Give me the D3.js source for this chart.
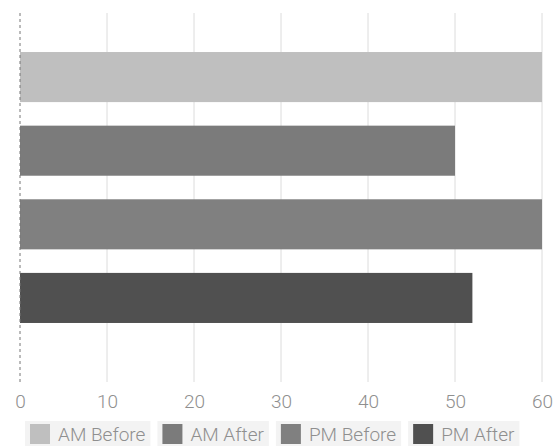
<!DOCTYPE html>
<html>
<head>
<meta charset="utf-8">
<script src="https://cdn.jsdelivr.net/npm/d3@7"></script>
<style>
  body { margin: 0; background: #fff; }
  text { font-family: Roboto, "Liberation Sans", sans-serif; font-weight: 300; fill: #8f8f8f; }
</style>
</head>
<body>
<div id="chart"></div>
<script>
// data
var categories = ["AM Before", "AM After", "PM Before", "PM After"];
var values = [60, 50, 60, 52];
var colors = ["#bfbfbf", "#7b7b7b", "#808080", "#505050"];
var tickValues = [0, 10, 20, 30, 40, 50, 60];

var w = 555, h = 446;
var plotLeft = 20, plotRight = 542, plotTop = 13, plotBottom = 362, gridBottom = 382;

var svg = d3.select("#chart")
  .append("svg")
  .attr("width", w)
  .attr("height", h);

var x = d3.scaleLinear()
  .domain([0, 60])
  .range([plotLeft, plotRight]);

var y = d3.scaleBand()
  .domain(categories)
  .range([plotTop, plotBottom])
  .paddingInner(0.32)
  .paddingOuter(0.53);

// grid lines
svg.selectAll("line.grid")
  .data(tickValues.slice(1))
  .enter().append("line")
  .attr("class", "grid")
  .attr("x1", function(d) { return x(d); })
  .attr("x2", function(d) { return x(d); })
  .attr("y1", plotTop)
  .attr("y2", gridBottom)
  .attr("stroke", "#dcdcdc")
  .attr("stroke-width", 1);

// bars
svg.selectAll("rect.bar")
  .data(values)
  .enter().append("rect")
  .attr("class", "bar")
  .attr("x", x(0))
  .attr("y", function(d, i) { return y(categories[i]); })
  .attr("width", function(d) { return x(d) - x(0); })
  .attr("height", y.bandwidth())
  .attr("fill", function(d, i) { return colors[i]; });

// zero axis, dashed
svg.append("line")
  .attr("x1", x(0)).attr("x2", x(0))
  .attr("y1", plotTop).attr("y2", gridBottom)
  .attr("stroke", "#777")
  .attr("stroke-width", 1)
  .attr("stroke-dasharray", "3,3");

// tick labels
var axis = d3.axisBottom(x)
  .tickValues(tickValues)
  .tickSize(0)
  .tickPadding(0);

var ax = svg.append("g")
  .attr("transform", "translate(0,394)")
  .call(axis);
ax.select(".domain").remove();
ax.selectAll("text")
  .attr("dy", "0.71em")
  .style("font-size", "19px")
  .style("font-family", "Roboto, 'Liberation Sans', sans-serif")
  .style("font-weight", "300")
  .style("fill", "#8f8f8f");

// legend
var legend = svg.append("g").attr("class", "legend");
var lx = 25;
categories.forEach(function(c, i) {
  var g = legend.append("g");
  var bg = g.append("rect")
    .attr("y", 421)
    .attr("height", 25)
    .attr("fill", "#f3f3f3");
  g.append("rect")
    .attr("x", lx + 5)
    .attr("y", 424)
    .attr("width", 20)
    .attr("height", 20)
    .attr("fill", colors[i]);
  var t = g.append("text")
    .attr("x", lx + 33)
    .attr("y", 441)
    .style("font-size", "19px")
    .text(c);
  var tw = t.node().getComputedTextLength();
  var itemW = 33 + tw + 5;
  bg.attr("x", lx).attr("width", itemW);
  lx += itemW + 7;
});
</script>
</body>
</html>
